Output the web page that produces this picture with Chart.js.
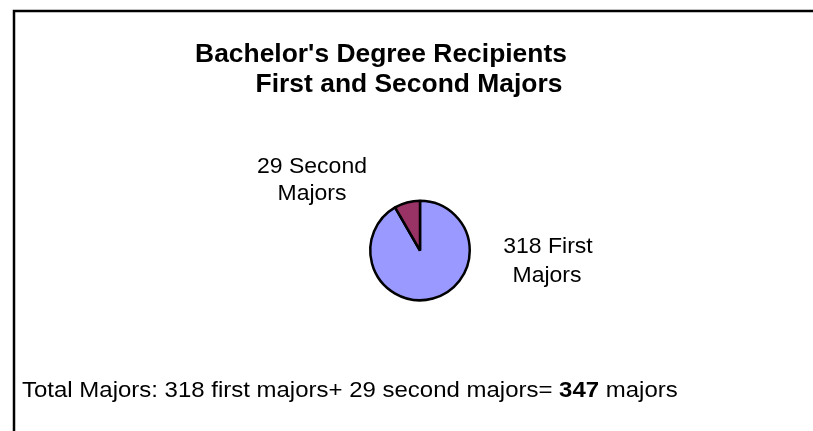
<!DOCTYPE html>
<html>
<head>
<meta charset="utf-8">
<script src="https://cdn.jsdelivr.net/npm/chart.js@4"></script>
<style>
  html, body { margin: 0; padding: 0; background: #fff; }
  #wrap { width: 813px; height: 431px; }
</style>
</head>
<body>
<div id="wrap"><canvas id="pie"></canvas></div>
<script>
const titleLines = ["Bachelor's Degree Recipients", "First and Second Majors"];
const categories = ["First", "Second"];
const majors = [318, 29];
const sliceColors = ["#9999FF", "#993366"];

const FONT = '"Liberation Sans", Arial, sans-serif';

// the original text is a bit wider than Arial, so stretch it horizontally
function stretchText(ctx, txt, x, y, sx) {
  ctx.save();
  ctx.translate(x, y);
  ctx.scale(sx, 1);
  ctx.fillText(txt, 0, 0);
  ctx.restore();
  return ctx.measureText(txt).width * sx;
}

// title, slice labels, footer and the frame line are drawn by hand
const annotations = {
  id: "annotations",
  afterDraw(chart) {
    const ctx = chart.ctx;
    ctx.save();

    // frame (left + top edges only)
    ctx.strokeStyle = "#000";
    ctx.lineWidth = 2.5;
    ctx.beginPath();
    ctx.moveTo(14, 431);
    ctx.lineTo(14, 11);
    ctx.lineTo(813, 11);
    ctx.stroke();

    ctx.fillStyle = "#000";
    ctx.textBaseline = "alphabetic";

    // title
    ctx.font = "bold 26px " + FONT;
    ctx.textAlign = "center";
    stretchText(ctx, titleLines[0], 381, 62, 1.016);
    stretchText(ctx, titleLines[1], 409, 92, 1.016);

    // slice labels
    ctx.font = "22px " + FONT;
    stretchText(ctx, majors[1] + " " + categories[1], 312, 173, 1.045);
    stretchText(ctx, "Majors", 312, 200, 1.045);
    stretchText(ctx, majors[0] + " " + categories[0], 548, 253, 1.045);
    stretchText(ctx, "Majors", 547, 282, 1.045);

    // footer
    const total = majors.reduce((a, b) => a + b, 0);
    const parts = [
      ["Total Majors: " + majors[0] + " first majors+ " + majors[1] + " second majors= ", false],
      [String(total), true],
      [" majors", false],
    ];
    ctx.textAlign = "left";
    let x = 22;
    parts.forEach(([txt, bold]) => {
      ctx.font = (bold ? "bold " : "") + "22px " + FONT;
      x += stretchText(ctx, txt, x, 397, 1.09);
    });

    ctx.restore();
  },
};

new Chart(document.getElementById("pie"), {
  type: "pie",
  data: {
    labels: categories,
    datasets: [
      {
        data: majors,
        backgroundColor: sliceColors,
        borderColor: "#000",
        borderWidth: 2.5,
      },
    ],
  },
  options: {
    responsive: true,
    maintainAspectRatio: false,
    animation: false,
    layout: { padding: { left: 369, right: 342, top: 199, bottom: 129 } },
    plugins: {
      legend: { display: false },
      title: { display: false },
      tooltip: { enabled: false },
    },
  },
  plugins: [annotations],
});
</script>
</body>
</html>
